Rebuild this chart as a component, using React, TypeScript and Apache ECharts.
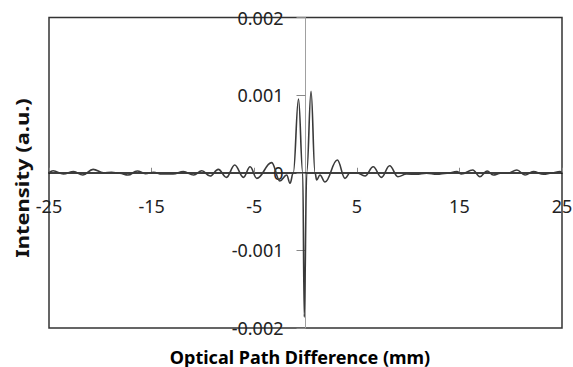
import React, { useEffect, useRef } from "react";
import * as echarts from "echarts";

// Optical path difference (mm)
const opd = [
  -25, -24.6, -23.6, -22.6, -21.7, -20.7, -19.7, -18.9, -18.1, -17.3, -16.4,
  -15.6, -14.8, -14.0, -12.9, -11.9, -10.9, -10.1, -9.3, -8.5, -7.7, -6.9,
  -6.05, -5.4, -4.75, -3.3, -2.5, -1.83, -1.51, -1.19, -0.68, -0.27, -0.12,
  0.12, 0.54, 0.93, 1.09, 1.41, 1.9, 3.1, 3.85, 4.35, 5.0, 5.8, 6.6, 7.4, 8.2,
  9.0, 9.85, 10.8, 11.8, 12.8, 13.8, 14.75, 15.2, 16.3, 17.0, 17.7, 18.3, 19.0,
  19.7, 20.6, 21.4, 22.2, 23.2, 24.0, 24.8, 25,
];

// Intensity (a.u.)
const intensity = [
  0, 2.5e-5, -1.6e-5, 1.4e-5, -2.9e-5, 4.4e-5, 0, 0.6e-5, -0.7e-5, -2.9e-5,
  2.3e-5, -1.2e-5, 0.6e-5, -1.6e-5, -1.6e-5, 1.4e-5, -2.9e-5, 2.6e-5, -4.2e-5,
  4.4e-5, -5.9e-5, 10e-5, -5.9e-5, 7.8e-5, -7.2e-5, 13e-5, -10.6e-5, -2.9e-5,
  -13.6e-5, 0, 95e-5, 0, -186e-5, 0, 105e-5, 0, -9.3e-5, -2.9e-5, -12e-5,
  16.4e-5, -7.2e-5, 0, 0, -4.2e-5, 7.8e-5, -5.9e-5, 9.1e-5, -5.1e-5, -1.6e-5,
  -2e-5, -0.7e-5, -2e-5, -0.7e-5, 1.4e-5, -1.6e-5, 3.5e-5, -5.1e-5, 2.3e-5,
  -2.9e-5, -0.7e-5, -0.7e-5, 3.5e-5, -2.9e-5, 1.4e-5, -2e-5, -0.3e-5, 1.4e-5, 0,
];

// Tick values
const xTicks = [-25, -15, -5, 5, 15, 25];
const yTicks = [-0.002, -0.001, 0, 0.001, 0.002];

const xTitle = "Optical Path Difference (mm)";
const yTitle = "Intensity (a.u.)";

const W = 573;
const H = 367;
const GRID = { left: 49, right: 11, top: 17.5, bottom: 39 };

export default function App() {
  const ref = useRef<HTMLDivElement>(null);
  useEffect(() => {
    const chart = echarts.init(ref.current!, null, { renderer: "svg" });
    const data = opd.map((x, i) => [x, intensity[i]]);
    const labelFont = {
      fontSize: 18,
      fontFamily: "Noto Sans",
      color: "#222",
    };
    const gridW = W - GRID.left - GRID.right;
    const gridH = H - GRID.top - GRID.bottom;
    chart.setOption({
      animation: false,
      backgroundColor: "#fff",
      grid: {
        ...GRID,
        show: true,
        borderColor: "#333",
        borderWidth: 1.5,
        containLabel: false,
        outerBoundsMode: "none",
      },
      xAxis: {
        type: "value",
        position: "bottom",
        offset: -gridH / 2,
        min: -25,
        max: 25,
        interval: 10,
        axisLine: { onZero: false, lineStyle: { color: "#000", width: 1.5 } },
        axisTick: {
          show: true,
          inside: true,
          length: 5,
          customValues: xTicks,
          lineStyle: { color: "#888" },
        },
        axisLabel: { show: false },
        splitLine: { show: false },
      },
      yAxis: {
        type: "value",
        position: "left",
        offset: -gridW / 2,
        min: -0.002,
        max: 0.002,
        interval: 0.001,
        axisLine: { show: true, onZero: false, lineStyle: { color: "#a0a0a0", width: 1 } },
        axisTick: { show: true, length: 9, customValues: yTicks, lineStyle: { color: "#888" } },
        axisLabel: { margin: 22, hideOverlap: false, customValues: yTicks, ...labelFont },
        splitLine: { show: false },
      },
      series: [
        {
          type: "line",
          data,
          showSymbol: false,
          smooth: 0.4,
          smoothMonotone: "x",
          lineStyle: { color: "#3a3a3a", width: 1.6 },
        },
      ],
    });

    // x tick labels placed through the chart's own x scale
    const xLabels = xTicks.map((v, i) => {
      const [px, py] = chart.convertToPixel({ gridIndex: 0 }, [v, 0]) as number[];
      return {
        type: "text",
        id: "xlab" + i,
        z: 100,
        x: px,
        y: py + 33,
        style: {
          text: "" + v,
          fontSize: 18,
          fontFamily: "Noto Sans",
          fill: "#222",
          align: "center",
          verticalAlign: "middle",
          textAlign: "center",
          textVerticalAlign: "middle",
          backgroundColor: v === 5 ? "#fefefe" : undefined,
        },
      };
    });

    chart.setOption({
      graphic: [
        ...xLabels,
        {
          type: "text",
          id: "xtitle",
          x: 300,
          y: 357,
          style: {
            text: xTitle,
            font: "bold 18px 'Noto Sans'",
            fill: "#000",
            align: "center",
            verticalAlign: "middle",
            textAlign: "center",
            textVerticalAlign: "middle",
          },
        },
        {
          type: "text",
          id: "ytitle",
          x: 22,
          y: 178,
          rotation: Math.PI / 2,
          scaleX: 1.22,
          style: {
            text: yTitle,
            font: "bold 18px 'Noto Sans'",
            fill: "#111",
            align: "center",
            verticalAlign: "middle",
            textAlign: "center",
            textVerticalAlign: "middle",
          },
        },
      ],
    });
    return () => chart.dispose();
  }, []);
  return (
    <div
      ref={ref}
      style={{ position: "fixed", left: 0, top: 0, width: W, height: H }}
    />
  );
}
